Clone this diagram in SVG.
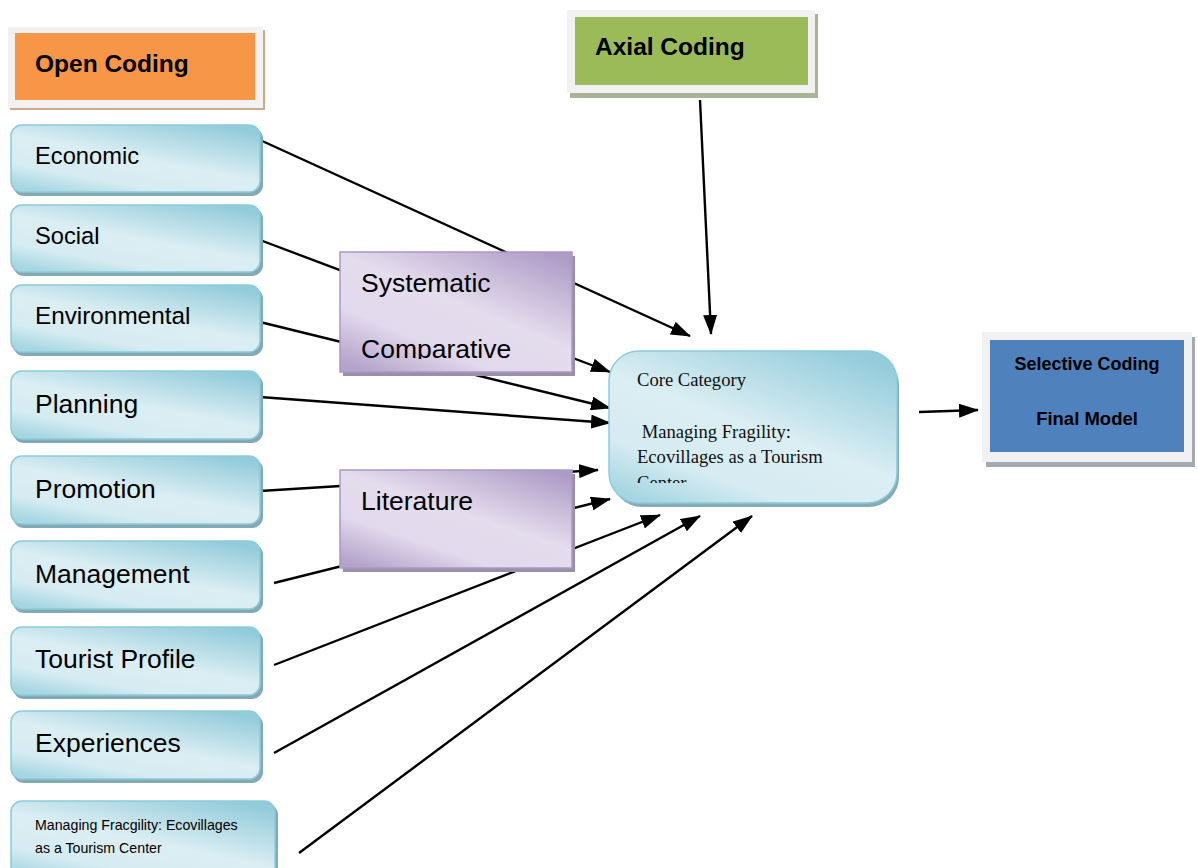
<svg xmlns="http://www.w3.org/2000/svg" width="1198" height="868" viewBox="0 0 1198 868">
  <style>
    .lbl { font-family: "Liberation Sans", Arial, sans-serif; fill: #000; }
    .bold { font-family: "Liberation Sans", Arial, sans-serif; font-weight: bold; fill: #000; }
    .serif { font-family: "Liberation Serif", "Times New Roman", serif; fill: #111; }
    .cbox { fill: url(#blueGrad); stroke: #8ccbd9; stroke-width: 1.5; }
    .cshadow { fill: #82a9b4; }
    .pbox { fill: url(#purpleGrad); stroke: #a998c6; stroke-width: 1.5; }
    .pshadow { fill: #9a8fa9; }
    .frame { fill: #f1f1f1; }
    .conn { stroke: #000; stroke-width: 2.4; fill: none; marker-end: url(#arrow); }
  </style>
  <defs>
    <linearGradient id="blueGrad" x1="0.85" y1="0" x2="0.15" y2="1">
      <stop offset="0" stop-color="#92cbda"/>
      <stop offset="0.5" stop-color="#dbeef3"/>
      <stop offset="0.78" stop-color="#d6ecf2"/>
      <stop offset="1" stop-color="#a6d6e2"/>
    </linearGradient>
    <linearGradient id="purpleGrad" x1="0.9" y1="0" x2="0.1" y2="1">
      <stop offset="0" stop-color="#ae9bc6"/>
      <stop offset="0.45" stop-color="#e4dded"/>
      <stop offset="0.72" stop-color="#e1d9ec"/>
      <stop offset="1" stop-color="#b3a2ca"/>
    </linearGradient>
    <marker id="arrow" markerUnits="userSpaceOnUse" viewBox="0 0 20 14" refX="19" refY="7" markerWidth="20" markerHeight="14" orient="auto">
      <path d="M0,0 L20,7 L0,14 Z" fill="#000"/>
    </marker>
    <clipPath id="clipSys"><rect x="340" y="252" width="232" height="107"/></clipPath>
    <clipPath id="clipCore"><rect x="609" y="351" width="288" height="132"/></clipPath>
  </defs>

  <!-- connectors (drawn beneath the method boxes) -->
  <g id="connectors">
    <line class="conn" x1="260" y1="140" x2="690" y2="336"/>
    <line class="conn" x1="700" y1="100" x2="711" y2="334"/>
    <line class="conn" x1="260" y1="240" x2="610" y2="372"/>
    <line class="conn" x1="260" y1="322" x2="610" y2="408"/>
    <line class="conn" x1="260" y1="397" x2="610" y2="423"/>
    <line class="conn" x1="260" y1="491" x2="598" y2="470"/>
    <line class="conn" x1="274" y1="583" x2="610" y2="499"/>
    <line class="conn" x1="274" y1="665" x2="660" y2="515"/>
    <line class="conn" x1="274" y1="753" x2="700" y2="516"/>
    <line class="conn" x1="299" y1="853" x2="752" y2="516"/>
    <line class="conn" x1="919" y1="412" x2="978" y2="410"/>
  </g>

  <!-- heading: Open Coding -->
  <g id="open-coding">
    <rect x="10" y="30" width="255" height="80" fill="#d3a98a"/>
    <rect class="frame" x="8" y="27" width="255" height="81"/>
    <rect x="15" y="33" width="240" height="67" fill="#f79646"/>
    <text class="bold" x="35" y="72" font-size="24.5">Open Coding</text>
  </g>

  <!-- heading: Axial Coding -->
  <g id="axial-coding">
    <rect x="570" y="14" width="248" height="84" fill="#a9b497"/>
    <rect class="frame" x="567" y="10" width="248" height="83"/>
    <rect x="575" y="17" width="233" height="68" fill="#9bbb59"/>
    <text class="bold" x="595" y="55" font-size="24.5">Axial Coding</text>
  </g>

  <!-- open codes -->
  <g id="economic">
    <rect class="cshadow" x="13" y="128" width="250" height="68" rx="11"/>
    <rect class="cbox" x="11" y="125" width="249" height="67" rx="11"/>
    <text class="lbl" x="35" y="164" font-size="23.7">Economic</text>
  </g>
  <g id="social">
    <rect class="cshadow" x="13" y="208" width="250" height="68" rx="11"/>
    <rect class="cbox" x="11" y="205" width="249" height="67" rx="11"/>
    <text class="lbl" x="35" y="244" font-size="23.7">Social</text>
  </g>
  <g id="environmental">
    <rect class="cshadow" x="13" y="288" width="250" height="68" rx="11"/>
    <rect class="cbox" x="11" y="285" width="249" height="67" rx="11"/>
    <text class="lbl" x="35" y="324" font-size="24.3">Environmental</text>
  </g>
  <g id="planning">
    <rect class="cshadow" x="13" y="374" width="250" height="69" rx="11"/>
    <rect class="cbox" x="11" y="371" width="249" height="68" rx="11"/>
    <text class="lbl" x="35" y="413" font-size="26.5">Planning</text>
  </g>
  <g id="promotion">
    <rect class="cshadow" x="13" y="459" width="250" height="69" rx="11"/>
    <rect class="cbox" x="11" y="456" width="249" height="68" rx="11"/>
    <text class="lbl" x="35" y="498" font-size="26.5">Promotion</text>
  </g>
  <g id="management">
    <rect class="cshadow" x="13" y="544" width="250" height="69" rx="11"/>
    <rect class="cbox" x="11" y="541" width="249" height="68" rx="11"/>
    <text class="lbl" x="35" y="583" font-size="26.5">Management</text>
  </g>
  <g id="tourist-profile">
    <rect class="cshadow" x="13" y="630" width="250" height="69" rx="11"/>
    <rect class="cbox" x="11" y="627" width="249" height="68" rx="11"/>
    <text class="lbl" x="35" y="668" font-size="26.5">Tourist Profile</text>
  </g>
  <g id="experiences">
    <rect class="cshadow" x="13" y="714" width="250" height="69" rx="11"/>
    <rect class="cbox" x="11" y="711" width="249" height="68" rx="11"/>
    <text class="lbl" x="35" y="752" font-size="26.5">Experiences</text>
  </g>
  <g id="managing-fragility-code">
    <rect class="cshadow" x="13" y="804" width="265" height="80" rx="11"/>
    <rect class="cbox" x="11" y="801" width="264" height="80" rx="11"/>
    <text class="lbl" x="35" y="830" font-size="14.2">Managing Fracgility: Ecovillages</text>
    <text class="lbl" x="35" y="853" font-size="14.2">as a Tourism Center</text>
  </g>

  <!-- methods -->
  <g id="systematic-comparative">
    <rect class="pshadow" x="343" y="256" width="232" height="120"/>
    <rect class="pbox" x="340" y="252" width="232" height="120"/>
    <g clip-path="url(#clipSys)">
      <text class="lbl" x="361" y="292" font-size="26.5">Systematic</text>
      <text class="lbl" x="361" y="358" font-size="26.5">Comparative</text>
    </g>
  </g>
  <g id="literature">
    <rect class="pshadow" x="343" y="474" width="232" height="98"/>
    <rect class="pbox" x="340" y="470" width="232" height="98"/>
    <text class="lbl" x="361" y="510" font-size="26.5">Literature</text>
  </g>

  <!-- core category -->
  <g id="core-category">
    <rect x="612" y="355" width="287" height="152" rx="30" fill="#86aab6"/>
    <rect class="cbox" x="609" y="351" width="288" height="152" rx="30"/>
    <g clip-path="url(#clipCore)">
      <text class="serif" x="637" y="386" font-size="18.6">Core Category</text>
      <text class="serif" x="637" y="438" font-size="18.6" xml:space="preserve"> Managing Fragility:</text>
      <text class="serif" x="637" y="463" font-size="18.6">Ecovillages as a Tourism</text>
      <text class="serif" x="637" y="489" font-size="18.6">Center</text>
    </g>
  </g>

  <!-- selective coding -->
  <g id="selective-coding">
    <rect x="986" y="337" width="209" height="130" fill="#a3a9b3"/>
    <rect class="frame" x="982" y="332" width="210" height="130"/>
    <rect x="990" y="340" width="194" height="112" fill="#4f81bd"/>
    <text class="bold" x="1087" y="370" font-size="18" text-anchor="middle">Selective Coding</text>
    <text class="bold" x="1087" y="425" font-size="18.5" text-anchor="middle">Final Model</text>
  </g>
</svg>
